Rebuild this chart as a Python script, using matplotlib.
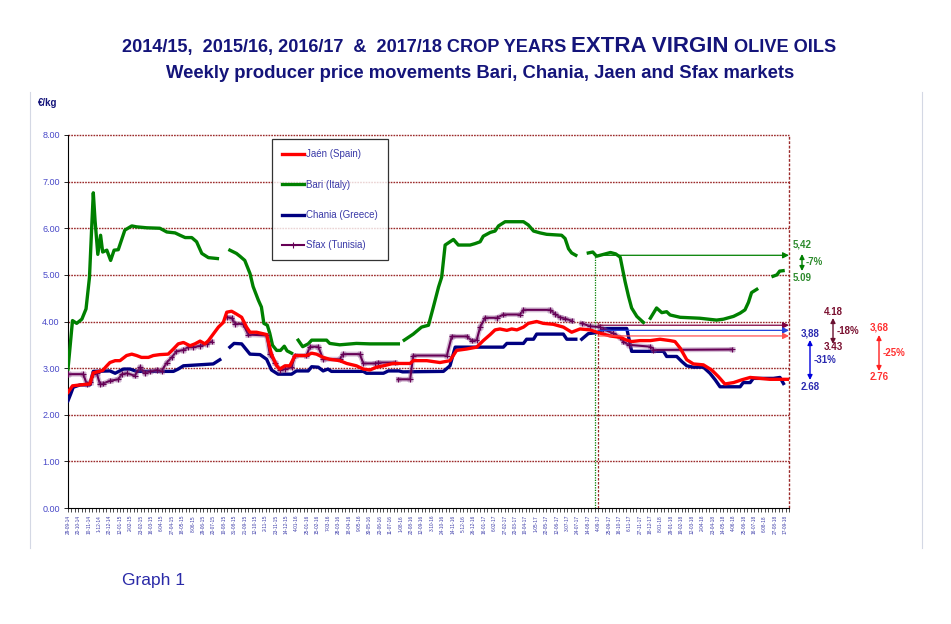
import matplotlib

matplotlib.use("Agg")
import matplotlib.pyplot as plt
import matplotlib.patheffects as pe
import numpy as np
import pandas as pd

NAN = np.nan

# ---- data (week index since 29-09-14, price EUR/kg); NaN = gap ----
start_date = "2014-09-29"
n_weeks = 209

bari_wk = [0, 1.3, 2.5, 4, 5.2, 6.2, 6.8, 7.3, 7.8, 8.6, 9.4, 10, 11.2, 12.3, 13.3, 14.5, 16.4,
           18.4, 19.8, 22.7, 26.5, 28.5, 30.9, 32.3, 33.8, 35.7, 37.1, 38.6, 40.5, 43.1, NAN,
           46.7, 48.6, 49.6, 51, 52.5, 53.4, 54.9, 55.8, 56.5, 57.5, 58.2, 59, 60.2, 61.3, 62.4,
           63.2, 64.5, NAN,
           66.4, 67.7, 69.3, 70.3, 74.6, 75.5, 78.4, 83.2, 87.1, 95.3, NAN,
           97, 99.6, 102, 104, 105.4, 106.9, 107.8, 108.8, 111.2, 112.6, 116, 117.4, 118.9,
           119.8, 121.8, 123.2, 124.2, 126.1, 131.4, 132.8, 134.3, 136.2, 138.1, 142.4, 143.4,
           144.4, 145.3, 146.5, NAN,
           150.1, 151.4, 152.5, 153.5, 155, 156.5, 158, 159.3, 160.7, 161.7, 162.6, 164.1, 166, NAN,
           168, 169.8, 171.3, 172.7, 173.7, 176.6, 182.3, 187.1, 189.1, 192, 193.9, 195.3, 196.3,
           197.2, 198.7, NAN,
           203.4, 204.5, 205.3, 206.3]
bari_val = [2.98, 4.02, 3.96, 4.05, 4.27, 4.95, 5.96, 6.76, 6.17, 5.44, 5.85, 5.49, 5.53, 5.31,
            5.53, 5.54, 5.96, 6.05, 6.03, 6.01, 6.0, 5.92, 5.90, 5.85, 5.80, 5.80, 5.71, 5.46,
            5.37, 5.35, NAN,
            5.53, 5.46, 5.40, 5.31, 5.03, 4.75, 4.46, 4.31, 3.96, 3.92, 3.75, 3.49, 3.38, 3.38,
            3.47, 3.37, 3.32, NAN,
            3.60, 3.46, 3.52, 3.60, 3.60, 3.53, 3.50, 3.53, 3.52, 3.52, NAN,
            3.60, 3.73, 3.88, 3.92, 4.31, 4.74, 4.95, 5.64, 5.76, 5.64, 5.64, 5.67, 5.71, 5.83,
            5.91, 5.94, 6.05, 6.14, 6.14, 6.07, 5.94, 5.90, 5.87, 5.85, 5.78, 5.56, 5.47, 5.42, NAN,
            5.47, 5.49, 5.40, 5.42, 5.45, 5.48, 5.45, 5.38, 4.86, 4.54, 4.29, 4.11, 3.98, NAN,
            4.07, 4.29, 4.19, 4.21, 4.14, 4.09, 4.07, 4.03, 4.05, 4.11, 4.18, 4.25, 4.41, 4.62,
            4.69, NAN,
            4.97, 5.00, 5.08, 5.09]

jaen_wk = [0, 1.3, 3.5, 6.3, 7.3, 10, 11.2, 12.1, 13.6, 15, 16.9, 18.4, 19.8, 21.2, 23.2, 24.6,
           26.5, 28.9, 30.4, 31.8, 33.3, 35.2, 36.6, 38.1, 39.5, 40.5, 41.9, 43.4, 44.8, 45.8,
           47.2, 48.6, 50.1, 51.5, 52.5, 54.4, 57.3, 58.7, 60.2, 61.1, 62.6, 64, 65.5, 68.8,
           70.3, 71.7, 73.6, 75.5, 78.4, 80.4, 83.2, 85.2, 87.1, 89, 91, 93.8, 98.7, 99.6, 103.5,
           107.3, 110.2, 112.1, 115, 117.9, 119.8, 121.8, 123.2, 124.6, 126.6, 128, 129.5, 131.4,
           132.8, 135.2, 137.1, 140, 142.9, 145.3, 147.7, 150.6, 153.5, 156.4, 159.3, 161.2,
           162.6, 165, 168, 170.8, 173.7, 175.1, 176.6, 178.5, 180.4, 183.3, 185.7, 187.6,
           189.5, 192, 194.4, 196.8, 199.6, 202.5, 208]
jaen_val = [2.48, 2.62, 2.64, 2.66, 2.90, 2.95, 3.05, 3.12, 3.16, 3.16, 3.27, 3.30, 3.27, 3.23,
            3.23, 3.27, 3.29, 3.30, 3.41, 3.52, 3.55, 3.48, 3.52, 3.58, 3.52, 3.59, 3.73, 3.88,
            3.98, 4.20, 4.22, 4.16, 4.09, 3.88, 3.77, 3.77, 3.72, 3.30, 3.05, 2.98, 3.05, 3.05,
            3.27, 3.27, 3.32, 3.30, 3.23, 3.19, 3.16, 3.10, 3.05, 2.98, 2.96, 3.02, 3.05, 3.10,
            3.10, 3.16, 3.16, 3.12, 3.16, 3.38, 3.41, 3.45, 3.59, 3.72, 3.82, 3.84, 3.81, 3.84,
            3.82, 3.88, 3.96, 4.00, 3.96, 3.94, 3.88, 3.77, 3.84, 3.82, 3.75, 3.69, 3.66, 3.60,
            3.57, 3.59, 3.59, 3.62, 3.59, 3.57, 3.43, 3.18, 3.09, 3.07, 2.96, 2.82, 2.66, 2.69,
            2.75, 2.80, 2.78, 2.76, 2.76]

chania_wk = [0, 0.8, 1.5, 3.5, 6.3, 7.3, 12.1, 13.6, 16, 17.9, 19.8, 30.4, 31.8, 33.3, 41.9,
             43.8, NAN,
             46.7, 47.9, 50.1, 52.5, 55.4, 57.3, 58.7, 60.6, 64.5, 65.9, 69.3, 70.3, 72.2, 73.6,
             75, 76, 85.2, 86.1, 91, 92.4, 95.5, 96.5, 108.3, 110.2, 111.7, 125.6, 126.6, 131.4,
             132.3, 134.3, 135.2, 142.9, 143.9, 146.5, NAN,
             148.2, 150.1, 153.5, 154.4, 161.2, 162, 162.6, 171.8, 172.7, 175.6, 177.1, 178.5,
             180.4, 183.3, 185.2, 186.7, 188.1, 193.9, 194.8, 196.8, 197.7, 203.5, 205.4, 206.4]
chania_val = [2.30, 2.45, 2.59, 2.64, 2.64, 2.93, 2.94, 2.89, 2.98, 2.98, 2.93, 2.93, 2.98,
              3.05, 3.09, 3.18, NAN,
              3.45, 3.53, 3.52, 3.30, 3.29, 3.19, 2.96, 2.87, 2.87, 2.94, 2.94, 3.03, 3.02, 2.94,
              2.98, 2.93, 2.93, 2.89, 2.89, 2.94, 2.94, 2.92, 2.93, 3.05, 3.45, 3.45, 3.53, 3.53,
              3.62, 3.62, 3.73, 3.73, 3.62, 3.62, NAN,
              3.62, 3.74, 3.77, 3.85, 3.85, 3.57, 3.36, 3.36, 3.25, 3.25, 3.14, 3.05, 3.02, 3.02,
              2.89, 2.75, 2.60, 2.60, 2.69, 2.69, 2.78, 2.78, 2.80, 2.67]

sfax_wk = [0, 4.4, 5.4, 6.5, 7.3, 8.3, 9.2, 10.2, 12.1, 14.5, 15.5, 16.9, 19.3, 20.8, 22.2, 23.7,
           25.6, 27, 28.5, 29.9, 31.3, 33.3, 34.7, 36.2, 38.1, 40, 41.4, NAN,
           45.8, 47.2, 48.2, 50.5, 52, 57.3, 58.2, 59.7, 61.1, 62.6, 64.5, 65.5, 68.8, 69.8, 72.2,
           73.6, 78.4, 79.4, 84.2, 85.2, 88.5, 89.5, 94.3, NAN,
           95.3, 98.7, 99.6, 109.3, 110.7, 115, 116.5, 117.9, 118.9, 120.3, 123.7, 125.6, 130.4,
           131.4, 139.1, 140.5, 142, 143.4, 145.3, NAN,
           148.2, 150.6, 153.5, 154.4, 157.3, 159.3, 160.2, 161.7, 168, 168.9, 191.5]
sfax_val = [2.87, 2.87, 2.66, 2.70, 2.87, 2.89, 2.66, 2.67, 2.73, 2.76, 2.87, 2.89, 2.84, 3.02,
            2.89, 2.93, 2.96, 2.94, 3.12, 3.23, 3.36, 3.39, 3.45, 3.45, 3.48, 3.52, 3.57, NAN,
            4.09, 4.08, 3.95, 3.95, 3.72, 3.70, 3.30, 3.12, 2.96, 2.98, 3.02, 3.27, 3.27, 3.46,
            3.46, 3.19, 3.19, 3.30, 3.30, 3.10, 3.10, 3.12, 3.12, NAN,
            2.76, 2.76, 3.27, 3.27, 3.68, 3.68, 3.59, 3.60, 3.88, 4.08, 4.08, 4.15, 4.15, 4.25,
            4.25, 4.16, 4.09, 4.06, 4.02, NAN,
            3.96, 3.90, 3.88, 3.83, 3.75, 3.66, 3.57, 3.50, 3.46, 3.39, 3.40]

# start of 2017/18 reference levels (horizontal arrows)
ref_week = 152.9
ref_levels = {"bari": 5.42, "sfax": 3.92, "chania": 3.81, "jaen": 3.69}

# right-hand annotations: (top label, bottom label, change)
ann_bari = ("5,42", "5.09", "-7%")
ann_sfax = ("4.18", "3.43", "-18%")
ann_chania = ("3,88", "2.68", "-31%")
ann_jaen = ("3,68", "2.76", "-25%")

RED = "#ff0000"
GREEN = "#008000"
NAVY = "#000080"
PURPLE = "#660055"
GRID = "#9b2a2a"
TXT = "#3a3aa8"
TITLE = "#14147a"

W, H = 951, 624
plt.rcParams["font.family"] = ["Liberation Sans", "DejaVu Sans"]

fig = plt.figure(figsize=(W / 100, H / 100), dpi=100)
fig.patch.set_facecolor("white")


def fx(x):
    return x / W


def fy(y):
    return 1 - y / H


ax = fig.add_axes([fx(68), fy(508), fx(789) - fx(68), fy(135) - fy(508)])
ax.set_xlim(0, n_weeks - 1)
ax.set_ylim(0, 8)

# gridlines
for v in range(1, 9):
    ax.axhline(v, color=GRID, lw=1.0, ls=(0, (1.2, 0.8)), zorder=1, clip_on=False)
ax.axvline(n_weeks - 1, color=GRID, lw=1.0, ls=(0, (2, 1.2)), zorder=1, clip_on=False)
ax.plot([152.0, 152.0], [0, 5.42], color=GREEN, lw=0.9, ls=(0, (1, 1)), zorder=1)
ax.plot([ref_week, ref_week], [0, 4.0], color=GRID, lw=0.9, ls=(0, (2, 1.2)), zorder=1)

# series
ax.plot(jaen_wk, jaen_val, color=RED, lw=2.4, label="Jaén (Spain)", zorder=4,
        solid_joinstyle="round")
ax.plot(bari_wk, bari_val, color=GREEN, lw=2.4, label="Bari (Italy)", zorder=3,
        solid_joinstyle="round")
ax.plot(chania_wk, chania_val, color=NAVY, lw=2.4, label="Chania (Greece)", zorder=3,
        solid_joinstyle="round")
ax.plot(sfax_wk, sfax_val, color=PURPLE, lw=1.5, label="Sfax (Tunisia)", zorder=3,
        marker="+", markersize=4, markeredgewidth=0.8,
        path_effects=[pe.Stroke(linewidth=3.6, foreground="#8a4a8a", alpha=0.35), pe.Normal()])

# horizontal reference arrows to the right border
arrow_cols = {"bari": GREEN, "sfax": "#800040", "chania": "#2244dd", "jaen": "#ff5050"}
for key, lvl in ref_levels.items():
    x0 = 152.0 if key == "bari" else ref_week
    ax.annotate("", xy=(n_weeks - 1, lvl), xytext=(x0, lvl),
                arrowprops=dict(arrowstyle="-|>", color=arrow_cols[key], lw=0.9,
                                mutation_scale=9, shrinkA=0, shrinkB=0), zorder=5)

# axes styling
for s in ["top", "right"]:
    ax.spines[s].set_visible(False)
ax.spines["left"].set_color("black")
ax.spines["bottom"].set_color("black")
ax.set_yticks(range(0, 9))
ax.set_yticklabels([f"{v:.2f}" for v in range(0, 9)], color="#4848c8", fontsize=6.5)
ax.tick_params(axis="y", length=3, width=0.6, pad=3)

dates = pd.date_range(start_date, periods=n_weeks, freq="7D")
major = np.arange(0, n_weeks, 3)
ax.set_xticks(major)
ax.set_xticklabels([f"{d.day}-{d.month:02d}-{d.year % 100}" for d in dates[major]],
                   rotation=90, fontsize=3.4, color=TXT)
ax.set_xticks(np.arange(0, n_weeks), minor=True)
ax.tick_params(axis="x", which="both", length=3, width=0.5, pad=2, direction="out")

# legend
leg = ax.legend(loc="upper left", bbox_to_anchor=(0.283, 0.988), frameon=True, fancybox=False,
                edgecolor="black", fontsize=7, labelspacing=2.1, handlelength=2.3,
                handletextpad=0.2, borderpad=1.0, borderaxespad=0)
leg.get_frame().set_linewidth(0.9)
for t in leg.get_texts():
    t.set_color(TXT)
leg.legend_handles[3].set_path_effects([])

# titles (mixed sizes on first line)
renderer = fig.canvas.get_renderer()
parts = [("2014/15,  2015/16, 2016/17  &  2017/18 CROP YEARS ", 13.1),
         ("EXTRA VIRGIN", 16.0), (" OLIVE OILS", 13.1)]
texts = []
for s, size in parts:
    texts.append(fig.text(0, fy(52), s, fontsize=size, fontweight="bold", color=TITLE,
                          ha="left", va="baseline"))
widths = [t.get_window_extent(renderer).width for t in texts]
x = 479 - sum(widths) / 2
for t, w in zip(texts, widths):
    t.set_x(fx(x))
    x += w
fig.text(fx(480), fy(78), "Weekly producer price movements Bari, Chania, Jaen and Sfax markets",
         fontsize=13.3, fontweight="bold", color=TITLE, ha="center", va="baseline")

fig.text(fx(38), fy(103), "€/kg", fontsize=7, fontweight="bold", color=TITLE, ha="left",
         va="center")
fig.text(fx(122), fy(580), "Graph 1", fontsize=12.5, color="#2a2aa8", ha="left", va="center")

# light frame lines
fig.add_artist(plt.Line2D([fx(30), fx(30)], [fy(92), fy(548)], color="#d4d8e4", lw=0.8))
fig.add_artist(plt.Line2D([fx(922), fx(922)], [fy(92), fy(548)], color="#d4d8e4", lw=0.8))


# right-hand change annotations
def change(x, y_top, y_a0, y_a1, y_bot, labels, tcol, acol, pct_dx=4):
    top, bot, pct = labels
    fig.text(fx(x), fy(y_top), top, fontsize=7, fontweight="bold", color=tcol,
             ha="center", va="center")
    fig.text(fx(x), fy(y_bot), bot, fontsize=7, fontweight="bold", color=tcol,
             ha="center", va="center")
    fig.text(fx(x + pct_dx), fy((y_a0 + y_a1) / 2), pct, fontsize=7, fontweight="bold",
             color=tcol, ha="left", va="center")
    fig.add_artist(matplotlib.patches.FancyArrowPatch(
        (fx(x), fy(y_a0)), (fx(x), fy(y_a1)), transform=fig.transFigure,
        arrowstyle="<|-|>", mutation_scale=7, color=acol, lw=1.0, shrinkA=0, shrinkB=0))


change(802, 245, 254, 271, 278, ann_bari, "#2e8b2e", GREEN)
change(833, 312, 318, 344, 347, ann_sfax, "#7a1030", "#6a1030")
change(810, 334, 340, 380, 387, ann_chania, "#2a2ab0", "#0000dd")
change(879, 327, 335, 371, 377, ann_jaen, "#ff3030", "#ff2020")

fig.savefig("out.png", dpi=100)
